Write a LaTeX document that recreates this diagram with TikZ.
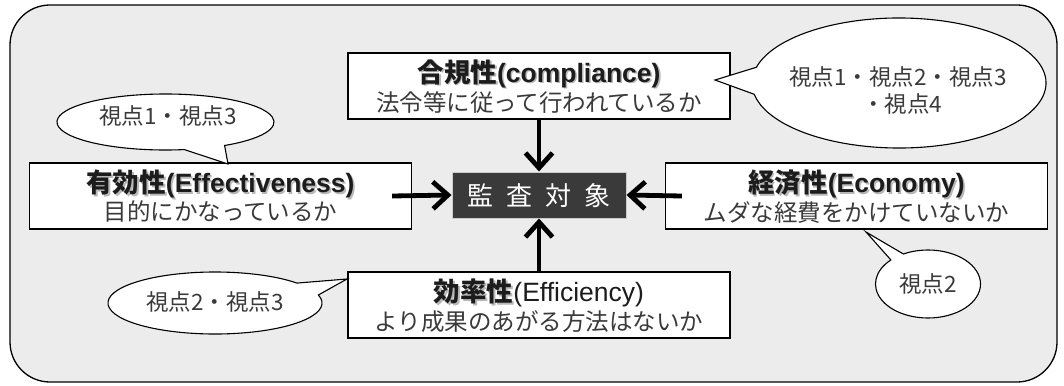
\documentclass[tikz,border=0pt]{standalone}
\usepackage{fontspec}
\newfontfamily\jp{Noto Sans CJK JP}
\newfontfamily\lat{Liberation Sans}
\usetikzlibrary{arrows.meta,calc}
\definecolor{bgc}{HTML}{ECECEC}
\definecolor{ctrc}{HTML}{3A3A3A}
\definecolor{txtc}{HTML}{3A3A3A}
\definecolor{ttlc}{HTML}{1C1C1C}
\begin{document}
\begin{tikzpicture}[x=1pt,y=-1pt,
  box/.style={draw=black,line width=1.3pt,fill=white,inner sep=0pt,minimum width=382pt,minimum height=66pt},
  ctrbox/.style={draw=white!80!black,line width=1pt,fill=ctrc,inner sep=0pt,minimum width=174pt,minimum height=46pt,
     text=white,font=\jp\fontsize{26}{30}\selectfont,text height=23pt,text depth=3pt},
  ttl/.style={inner sep=0pt,text=ttlc,font=\fontsize{26.5}{30}\selectfont,text height=23.3pt,text depth=3.2pt},
  ttlsh/.style={ttl,text=black!28},
  sub/.style={inner sep=0pt,text=txtc,font=\jp\fontsize{23.5}{26}\selectfont,text height=20.7pt,text depth=2.8pt},
  btxt/.style={inner sep=0pt,text=txtc,font=\jp\fontsize{22.5}{25}\selectfont,text height=19.8pt,text depth=2.7pt},
  bubble/.style={draw=black,line width=1.1pt,fill=white,line join=miter},
  arr/.style={line width=4.8pt,-{Straight Barb[length=15pt,width=27pt]}},
]
\useasboundingbox (0,0) rectangle (1064,385);
% outer panel
\draw[fill=bgc,line width=1.3pt,rounded corners=40pt] (10,5) rectangle (1057,382);

% boxes
\node[box] (top) at (539,86) {};
\node[box] (lft) at (220.5,196) {};
\node[box] (rgt) at (856.5,196) {};
\node[box] (bot) at (539,305) {};
\node[ctrbox] (ctr) at (539,195) {監\hspace{13pt}査\hspace{13pt}対\hspace{13pt}象};

% titles (shadow + text)
\node[ttlsh] (topts) at ($(top.north)+(1.6,21.6)$) {{\jp\bfseries 合規性}{\lat\bfseries (compliance)}};
\node[ttl]   (toptt) at ($(top.north)+(0,20)$) {{\jp\bfseries 合規性}{\lat\bfseries (compliance)}};
\node[sub]   (topsb) at ($(top.north)+(0,50)$) {法令等に従って行われているか};

\node[ttlsh] (lftts) at ($(lft.north)+(1.6,21.6)$) {{\jp\bfseries 有効性}{\lat\bfseries (Effectiveness)}};
\node[ttl]   (lfttt) at ($(lft.north)+(0,20)$) {{\jp\bfseries 有効性}{\lat\bfseries (Effectiveness)}};
\node[sub]   (lftsb) at ($(lft.north)+(0,49)$) {目的にかなっているか};

\node[ttlsh] (rgtts) at ($(rgt.north)+(1.6,21.6)$) {{\jp\bfseries 経済性}{\lat\bfseries (Economy)}};
\node[ttl]   (rgttt) at ($(rgt.north)+(0,20)$) {{\jp\bfseries 経済性}{\lat\bfseries (Economy)}};
\node[sub]   (rgtsb) at ($(rgt.north)+(0,50)$) {ムダな経費をかけていないか};

\node[ttlsh] (botts) at ($(bot.north)+(1.6,21.6)$) {{\jp\bfseries 効率性}\phantom{\lat (Efficiency)}};
\node[ttl]   (bottt) at ($(bot.north)+(0,20)$) {{\jp\bfseries 効率性}{\lat (Efficiency)}};
\node[sub]   (botsb) at ($(bot.north)+(0,50)$) {より成果のあがる方法はないか};

% arrows
\draw[arr] (top.south) -- (ctr.north);
\draw[arr] (bot.north) -- (ctr.south);
\draw[arr] ($(lft.east)+(-20,0)$) -- (ctr.west);
\draw[arr] ($(rgt.west)+(17,0)$) -- (ctr.east);

% bubble 1 (top right)
\coordinate (b1c) at (899,83);
\coordinate (b1tip) at (715,80);
\draw[bubble] ($(b1c)+(194:147 and 65)$) arc[start angle=194,end angle=530,x radius=147,y radius=65] -- (b1tip) -- cycle;
\node[btxt] (b1a) at (898,77) {視点1・視点2・視点3};
\node[btxt] (b1b) at (902,104) {・視点4};

% bubble 2 (left)
\coordinate (b2c) at (165.5,122);
\coordinate (b2tip) at (228,164);
\draw[bubble] ($(b2c)+(80:108.5 and 28)$) arc[start angle=80,end angle=417,x radius=108.5,y radius=28] -- (b2tip) -- cycle;
\node[btxt] (b2a) at (168,116) {視点1・視点3};

% bubble 3 (right)
\coordinate (b3c) at (928,284);
\coordinate (b3tip) at (866,232);
\draw[bubble] ($(b3c)+(242:52.5 and 34)$) arc[start angle=242,end angle=585,x radius=52.5,y radius=34] -- (b3tip) -- cycle;
\node[btxt] (b3a) at (928,284) {視点2};

% bubble 4 (bottom left)
\coordinate (b4c) at (215,303);
\coordinate (b4tip) at (347,279);
\draw[bubble] ($(b4c)+(-15:107 and 31)$) arc[start angle=-15,end angle=320,x radius=107,y radius=31] -- (b4tip) -- cycle;
\node[btxt] (b4a) at (215,302) {視点2・視点3};
\end{tikzpicture}
\end{document}
